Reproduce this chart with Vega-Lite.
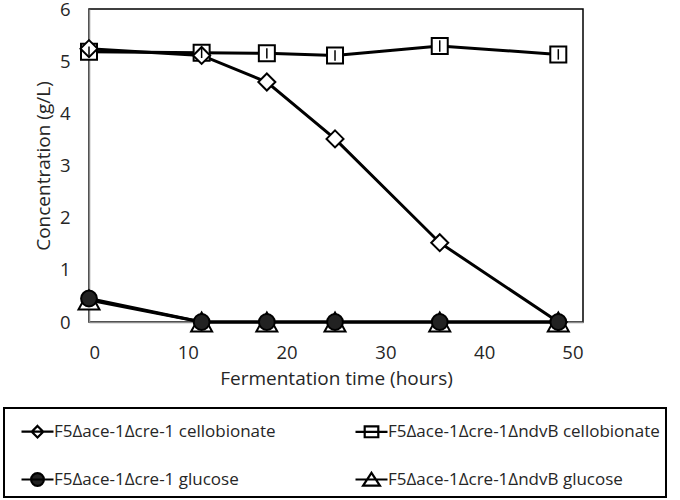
{
  "$schema": "https://vega.github.io/schema/vega-lite/v6.json",
  "width": 494,
  "height": 313,
  "autosize": "none",
  "padding": {"left": 89, "top": 9, "right": 97, "bottom": 178},
  "background": "white",
  "config": {
    "view": {"stroke": "black", "strokeWidth": 1.5},
    "font": "Open Sans",
    "axis": {
      "grid": false,
      "ticks": false,
      "domainColor": "#8c8c8c",
      "domainWidth": 1.5,
      "labelFont": "Open Sans",
      "labelFontSize": 18.5,
      "labelColor": "#262626",
      "titleFont": "Open Sans",
      "titleFontSize": 19,
      "titleFontWeight": "normal",
      "titleColor": "#262626"
    },
    "legend": {
      "title": null,
      "orient": "none",
      "legendX": -85,
      "legendY": 399,
      "direction": "horizontal",
      "columns": 2,
      "padding": 6,
      "strokeColor": "black",
      "strokeWidth": 2,
      "symbolSize": 1024,
      "symbolFillColor": "white",
      "symbolStrokeColor": "black",
      "symbolStrokeWidth": 2.2,
      "symbolOpacity": 1,
      "labelFont": "Open Sans",
      "labelFontSize": 17,
      "labelColor": "#262626",
      "labelLimit": 500,
      "labelOffset": 9,
      "columnPadding": 68,
      "rowPadding": 20
    }
  },
  "data": {
    "values": [
      {"series": "F5Δace-1Δcre-1ΔndvB glucose", "time": 0, "conc": 0.42},
      {"series": "F5Δace-1Δcre-1ΔndvB glucose", "time": 11.4, "conc": 0},
      {"series": "F5Δace-1Δcre-1ΔndvB glucose", "time": 18, "conc": 0},
      {"series": "F5Δace-1Δcre-1ΔndvB glucose", "time": 24.9, "conc": 0},
      {"series": "F5Δace-1Δcre-1ΔndvB glucose", "time": 35.5, "conc": 0},
      {"series": "F5Δace-1Δcre-1ΔndvB glucose", "time": 47.5, "conc": 0},
      {"series": "F5Δace-1Δcre-1ΔndvB cellobionate", "time": 0, "conc": 5.18, "lo": 5.08, "hi": 5.28},
      {"series": "F5Δace-1Δcre-1ΔndvB cellobionate", "time": 11.4, "conc": 5.16, "lo": 5.06, "hi": 5.26},
      {"series": "F5Δace-1Δcre-1ΔndvB cellobionate", "time": 18, "conc": 5.15, "lo": 5.05, "hi": 5.25},
      {"series": "F5Δace-1Δcre-1ΔndvB cellobionate", "time": 24.9, "conc": 5.11, "lo": 5.01, "hi": 5.21},
      {"series": "F5Δace-1Δcre-1ΔndvB cellobionate", "time": 35.5, "conc": 5.29, "lo": 5.18, "hi": 5.4},
      {"series": "F5Δace-1Δcre-1ΔndvB cellobionate", "time": 47.5, "conc": 5.13, "lo": 5.03, "hi": 5.23},
      {"series": "F5Δace-1Δcre-1 cellobionate", "time": 0, "conc": 5.24},
      {"series": "F5Δace-1Δcre-1 cellobionate", "time": 11.4, "conc": 5.11},
      {"series": "F5Δace-1Δcre-1 cellobionate", "time": 18, "conc": 4.6},
      {"series": "F5Δace-1Δcre-1 cellobionate", "time": 24.9, "conc": 3.51},
      {"series": "F5Δace-1Δcre-1 cellobionate", "time": 35.5, "conc": 1.52},
      {"series": "F5Δace-1Δcre-1 cellobionate", "time": 47.5, "conc": 0},
      {"series": "F5Δace-1Δcre-1 glucose", "time": 0, "conc": 0.45},
      {"series": "F5Δace-1Δcre-1 glucose", "time": 11.4, "conc": 0},
      {"series": "F5Δace-1Δcre-1 glucose", "time": 18, "conc": 0},
      {"series": "F5Δace-1Δcre-1 glucose", "time": 24.9, "conc": 0},
      {"series": "F5Δace-1Δcre-1 glucose", "time": 35.5, "conc": 0},
      {"series": "F5Δace-1Δcre-1 glucose", "time": 47.5, "conc": 0}
    ]
  },
  "encoding": {
    "x": {
      "field": "time",
      "type": "quantitative",
      "scale": {"domain": [0, 50], "nice": false, "zero": false},
      "axis": {"values": [0, 10, 20, 30, 40, 50], "labelPadding": 21, "title": "Fermentation time (hours)", "titlePadding": 8}
    },
    "y": {
      "field": "conc",
      "type": "quantitative",
      "scale": {"domain": [0, 6], "nice": false},
      "axis": {"values": [0, 1, 2, 3, 4, 5, 6], "labelPadding": 19, "title": "Concentration (g/L)", "titlePadding": 6}
    }
  },
  "resolve": {"scale": {"shape": "independent", "fill": "independent"}},
  "layer": [
    {
      "mark": {"type": "line", "color": "black", "strokeWidth": 3},
      "encoding": {"detail": {"field": "series"}}
    },
    {
      "mark": {"type": "point", "filled": false, "stroke": "black", "strokeWidth": 2, "opacity": 1, "size": 400},
      "encoding": {
        "shape": {
          "field": "series",
          "type": "nominal",
          "scale": {
            "domain": ["F5Δace-1Δcre-1 cellobionate", "F5Δace-1Δcre-1ΔndvB cellobionate", "F5Δace-1Δcre-1 glucose", "F5Δace-1Δcre-1ΔndvB glucose"],
            "range": [
              "M0,-0.85L0.85,0L0,0.85L-0.85,0Z",
              "M-0.8,-0.8H0.8V0.8H-0.8Z",
              "M-0.79,0A0.79,0.79,0,1,0,0.79,0A0.79,0.79,0,1,0,-0.79,0Z",
              "M0,-0.95L1.05,0.95L-1.05,0.95Z"
            ]
          },
          "legend": null
        },
        "fill": {
          "field": "series",
          "type": "nominal",
          "scale": {
            "domain": ["F5Δace-1Δcre-1 cellobionate", "F5Δace-1Δcre-1ΔndvB cellobionate", "F5Δace-1Δcre-1 glucose", "F5Δace-1Δcre-1ΔndvB glucose"],
            "range": ["white", "white", "#222222", "white"]
          },
          "legend": null
        }
      }
    },
    {
      "transform": [{"filter": "isValid(datum.lo)"}],
      "mark": {"type": "rule", "color": "black", "strokeWidth": 1.5},
      "encoding": {"y": {"field": "lo", "type": "quantitative"}, "y2": {"field": "hi"}}
    },
    {
      "transform": [{"filter": "datum.time < 0"}],
      "mark": {"type": "point", "filled": false, "stroke": "black", "strokeWidth": 2.2, "opacity": 1},
      "encoding": {
        "shape": {
          "field": "series",
          "type": "nominal",
          "scale": {
            "domain": ["F5Δace-1Δcre-1 cellobionate", "F5Δace-1Δcre-1ΔndvB cellobionate", "F5Δace-1Δcre-1 glucose", "F5Δace-1Δcre-1ΔndvB glucose"],
            "range": [
              "M-0.375,0H1.625M0.625,-0.36L0.985,0L0.625,0.36L0.265,0Z",
              "M-0.375,0H1.625M0.2,-0.34H1.05V0.34H0.2Z",
              "M-0.375,0H1.625M0.225,0A0.4,0.4,0,1,0,1.025,0A0.4,0.4,0,1,0,0.225,0Z",
              "M-0.375,0H1.625M0.625,-0.42L1.15,0.38L0.1,0.38Z"
            ]
          }
        },
        "fill": {
          "field": "series",
          "type": "nominal",
          "scale": {
            "domain": ["F5Δace-1Δcre-1 cellobionate", "F5Δace-1Δcre-1ΔndvB cellobionate", "F5Δace-1Δcre-1 glucose", "F5Δace-1Δcre-1ΔndvB glucose"],
            "range": ["white", "white", "#222222", "white"]
          }
        }
      }
    }
  ]
}
